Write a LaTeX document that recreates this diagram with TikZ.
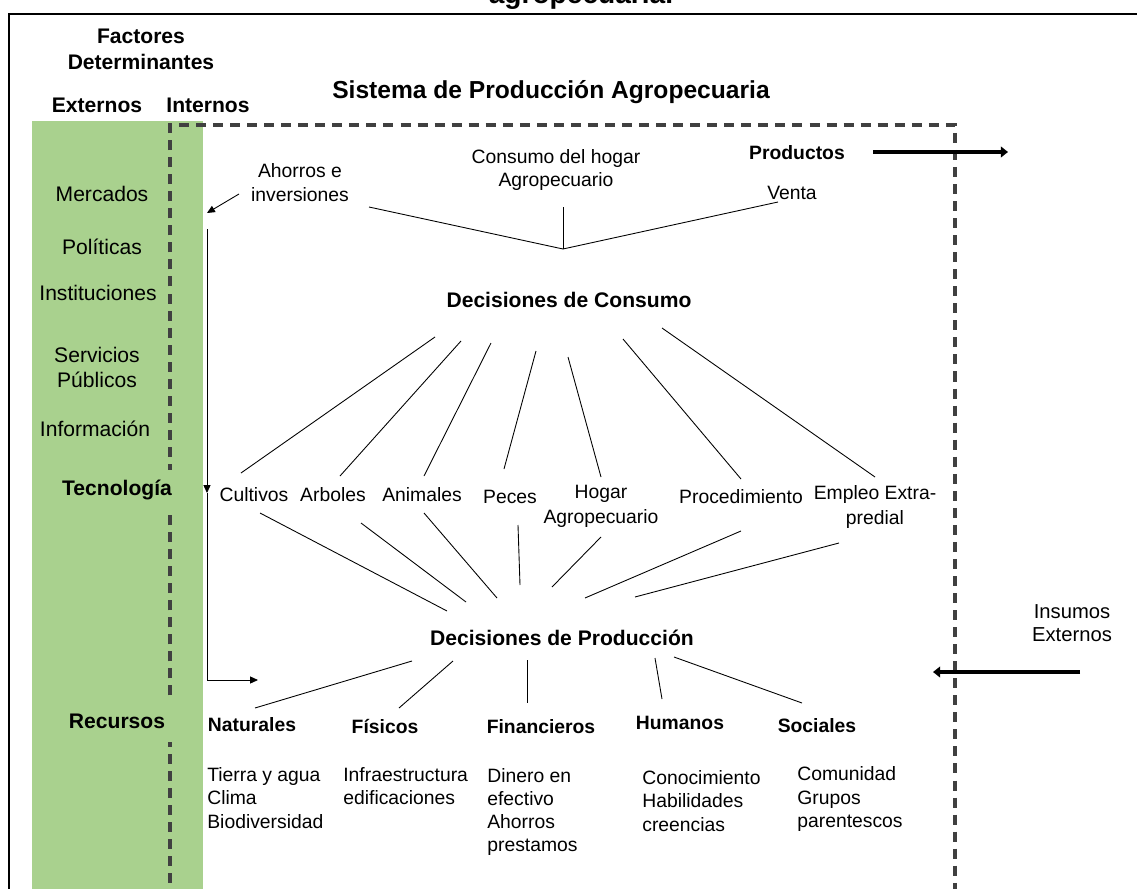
\documentclass[tikz,border=0pt]{standalone}
\usepackage{fontspec}
\setmainfont{Liberation Sans}
\usetikzlibrary{calc,arrows.meta}
\definecolor{verdeext}{HTML}{A9D18E}
\definecolor{grisdash}{HTML}{404040}

\begin{document}
\begin{tikzpicture}[x=0.02cm,y=-0.02cm,
  txt/.style={font=\fontsize{11}{13.7}\selectfont, inner sep=0pt, align=center},
  txtb/.style={font=\bfseries\fontsize{11}{13}\selectfont, inner sep=0pt},
  izq/.style={font=\fontsize{12}{14.2}\selectfont, inner sep=0pt, align=center},
  tit/.style={font=\bfseries\fontsize{12}{14.8}\selectfont, inner sep=0pt, align=center},
  lista/.style={font=\fontsize{11}{13.2}\selectfont, inner sep=0pt, align=left, anchor=west},
  linea/.style={line width=0.5pt},
  flecha/.style={line width=0.5pt, -{Triangle[length=4.5pt,width=4pt]}},
  gruesa/.style={line width=2.8pt, -{Triangle[length=4pt,width=6pt]}},
  borde/.style={grisdash, line width=2.3pt, dash pattern=on 5.7pt off 4pt}]
\useasboundingbox (0,0) rectangle (1137,889);

\fill[verdeext] (32,121) rectangle (203,900);
\draw[line width=1pt] (9,900) -- (9,14) -- (1150,14);
\draw[borde] (170,900) -- (170,125) -- (955,125) -- (955,900);

\node[font=\bfseries\fontsize{16}{19}\selectfont, anchor=base, inner sep=0pt] (titulo) at (581,4) {agropecuaria.};

% factores determinantes
\node[tit] (factores) at (141,49) {Factores\\Determinantes};
\node[tit] (ext) at (97,105) {Externos};
\node[tit] (int) at (208,105) {Internos};
\node[font=\bfseries\fontsize{14}{17}\selectfont, inner sep=0pt] (sis) at (551,92) {Sistema de Producción Agropecuaria};

\node[izq] (merc) at (102,194) {Mercados};
\node[izq] (pol) at (102,247) {Políticas};
\node[izq] (inst) at (98,293) {Instituciones};
\node[izq] (serv) at (97,367) {Servicios\\Públicos};
\node[izq] (info) at (95,429) {Información};
\node[tit, fill=verdeext, inner xsep=4pt, minimum height=23pt] (tec) at (117,490) {Tecnología};
\node[tit, fill=verdeext, inner xsep=4pt, minimum height=24pt] (rec) at (117,721) {Recursos};

% consumo
\node[txt] (ahorros) at (300,183) {Ahorros e\\inversiones};
\node[txt, font=\fontsize{11}{13}\selectfont] (hogcons) at (556,170) {Consumo del hogar\\Agropecuario};
\node[txt] (venta) at (792,193) {Venta};
\node[txtb] (prod) at (797,153) {Productos};
\node[tit] (dcons) at (569,300) {Decisiones de Consumo};

\node[txt] (cult) at (254,495) {Cultivos};
\node[txt] (arb) at (333,495) {Arboles};
\node[txt] (anim) at (422,495) {Animales};
\node[txt] (peces) at (510,497) {Peces};
\node[txt, font=\fontsize{11}{14.2}\selectfont] (hogar) at (601,506) {Hogar\\Agropecuario};
\node[txt] (proc) at (741,497) {Procedimiento};
\node[txt] (empleo) at (875,507) {Empleo Extra-\\predial};

% produccion
\node[tit] (dprod) at (562,638) {Decisiones de Producción};

\node[txtb] (nat) at (252,725) {Naturales};
\node[txtb] (fis) at (385,727) {Físicos};
\node[txtb] (fin) at (541,727) {Financieros};
\node[txtb] (hum) at (680,723) {Humanos};
\node[txtb] (soc) at (817,726) {Sociales};

\node[lista] (natlist) at (207,798) {Tierra y agua\\Clima\\Biodiversidad};
\node[lista] (fislist) at (343,786) {Infraestructura\\edificaciones};
\node[lista] (finlist) at (487,812) {Dinero en\\efectivo\\Ahorros\\prestamos};
\node[lista] (humlist) at (642,801) {Conocimiento\\Habilidades\\creencias};
\node[lista] (soclist) at (797,799) {Comunidad\\Grupos\\parentescos};

\node[txt, font=\fontsize{11.5}{13}\selectfont] (insumos) at (1072,623) {Insumos\\Externos};

% lineas
\coordinate (junta) at (563,249);
\draw[linea] ($(ahorros)+(69,24)$) -- (junta);
\draw[linea] ($(hogcons)+(7,37)$) -- (junta);
\draw[linea] ($(venta)+(-14,9)$) -- (junta);

\draw[linea] ($(dcons)+(-134,37)$) -- ($(cult)+(-13,-22)$);
\draw[linea] ($(dcons)+(-108,41)$) -- ($(arb)+(7,-19)$);
\draw[linea] ($(dcons)+(-78,43)$) -- ($(anim)+(2,-19)$);
\draw[linea] ($(dcons)+(-33,51)$) -- ($(peces)+(-6,-28)$);
\draw[linea] ($(dcons)+(-1,57)$) -- ($(hogar)+(0,-29)$);
\draw[linea] ($(dcons)+(54,39)$) -- ($(proc)+(0,-18)$);
\draw[linea] ($(dcons)+(93,28)$) -- ($(empleo)+(0,-30)$);

\draw[linea] ($(cult)+(6,18)$) -- ($(dprod)+(-115,-27)$);
\draw[linea] ($(arb)+(28,28)$) -- ($(dprod)+(-96,-36)$);
\draw[linea] ($(anim)+(2,18)$) -- ($(dprod)+(-65,-40)$);
\draw[linea] ($(peces)+(8,28)$) -- ($(dprod)+(-42,-53)$);
\draw[linea] ($(hogar)+(0,31)$) -- ($(dprod)+(-10,-51)$);
\draw[linea] ($(proc)+(0,34)$) -- ($(dprod)+(23,-40)$);
\draw[linea] ($(empleo)+(-36,36)$) -- ($(dprod)+(73,-41)$);

\draw[linea] ($(dprod)+(-150,23)$) -- ($(nat)+(3,-17)$);
\draw[linea] ($(dprod)+(-109,23)$) -- ($(fis)+(14,-19)$);
\draw[linea] ($(dprod)+(-35,22)$) -- ($(fin)+(-14,-24)$);
\draw[linea] ($(dprod)+(93,20)$) -- ($(hum)+(-18,-24)$);
\draw[linea] ($(dprod)+(112,19)$) -- ($(soc)+(-15,-23)$);

% flechas
\coordinate (retorno) at (207,213);
\coordinate (fbtop) at (207,229);
\coordinate (fbmid) at (207,493);
\coordinate (fbbot) at (207,680);
\coordinate (fbfin) at (258,680);
\draw[flecha] ($(ahorros)+(-61,11)$) -- (retorno);
\draw[flecha] (fbtop) -- (fbmid);
\draw[flecha] (fbmid) -- (fbbot) -- (fbfin);

\coordinate (prodfin) at (1008,152);
\coordinate (insfin) at (933,672);
\draw[gruesa] ($(prod)+(76,-1)$) -- (prodfin);
\draw[gruesa] ($(insumos)+(8,49)$) -- (insfin);
\end{tikzpicture}
\end{document}
